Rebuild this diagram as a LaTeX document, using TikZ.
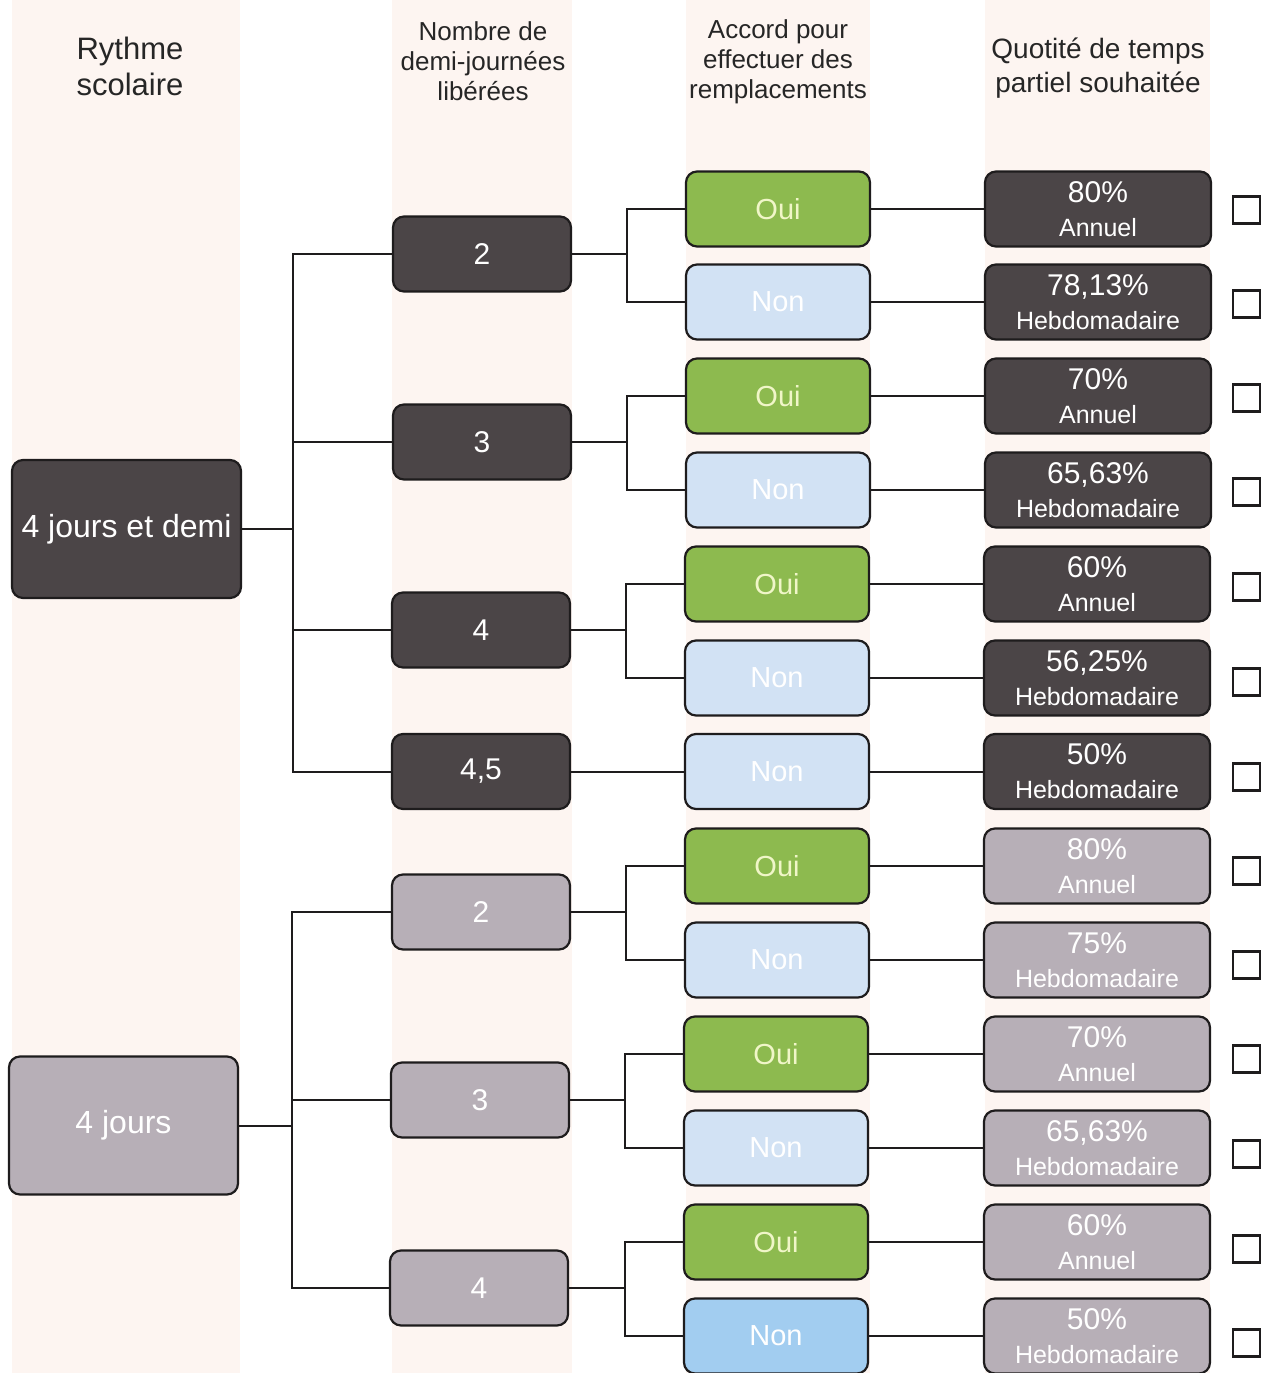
\documentclass[tikz,border=0pt]{standalone}
\usepackage{fontspec}
\setmainfont{Liberation Sans}
\definecolor{darkbox}{HTML}{4B4547}
\definecolor{greybox}{HTML}{B7AFB7}
\definecolor{ouigreen}{HTML}{8DBA4F}
\definecolor{nonblue}{HTML}{D2E2F4}
\definecolor{nonblue2}{HTML}{A2CDF0}
\definecolor{ouitext}{HTML}{F0F6C8}
\definecolor{strip}{HTML}{FDF5F1}
\definecolor{edge}{HTML}{1E1C1D}
\newcommand\qt[2]{{\fontsize{30}{34}\selectfont #1}\\#2}
\begin{document}
\begin{tikzpicture}[x=1pt,y=-1pt,
  boxbase/.style={draw=edge, line width=2.2pt, rounded corners=11pt, inner sep=0pt, text=white, align=center},
  rootbox/.style={boxbase, minimum width=229pt, minimum height=138pt, font=\fontsize{32}{34}\selectfont},
  numbox/.style={boxbase, minimum width=178pt, minimum height=75pt, font=\fontsize{30}{32}\selectfont},
  ansbox/.style={boxbase, minimum width=184pt, minimum height=75pt, font=\fontsize{29}{31}\selectfont},
  ouibox/.style={ansbox, fill=ouigreen, text=ouitext},
  nonbox/.style={ansbox, fill=nonblue},
  qbox/.style={boxbase, minimum width=226pt, minimum height=75pt, font=\fontsize{25}{34}\selectfont},
  chk/.style={draw=edge, fill=white, line width=2.3pt, minimum size=27pt, inner sep=0pt},
  hdr/.style={align=center, text=black!85},
  conn/.style={draw=edge, line width=2pt}
]
\useasboundingbox (0,0) rectangle (1268,1373);
\fill[white] (0,0) rectangle (1268,1373);
% column strips
\fill[strip] (12,0) rectangle (240,1373);
\fill[strip] (392,0) rectangle (572,1373);
\fill[strip] (686,0) rectangle (870,1373);
\fill[strip] (985,0) rectangle (1210,1373);

% headers
\node[hdr, font=\fontsize{31}{36}\selectfont] (h1) at (130,66) {Rythme\\scolaire};
\node[hdr, font=\fontsize{26}{30}\selectfont] (h2) at (483,61) {Nombre de\\demi-journées\\libérées};
\node[hdr, font=\fontsize{26}{30}\selectfont] (h3) at (778,62) {Accord pour\\effectuer des\\remplacements};
\node[hdr, font=\fontsize{28}{34}\selectfont] (h4) at (1098,68) {Quotité de temps\\partiel souhaitée};

% column 1
\node[rootbox, fill=darkbox] (r1) at (126.5,529) {4 jours et demi};
\node[rootbox, fill=greybox] (r2) at (123.5,1125.5) {4 jours};

% column 2
\node[numbox, fill=darkbox] (d2) at (482,254) {2};
\node[numbox, fill=darkbox] (d3) at (482,442) {3};
\node[numbox, fill=darkbox] (d4) at (481,630) {4};
\node[numbox, fill=darkbox] (d45) at (481,771.5) {4,5};
\node[numbox, fill=greybox] (g2) at (481,912) {2};
\node[numbox, fill=greybox] (g3) at (480,1100) {3};
\node[numbox, fill=greybox] (g4) at (479,1288) {4};

% column 3
\node[ouibox] (a1) at (778,209) {Oui};
\node[nonbox] (a2) at (778,302) {Non};
\node[ouibox] (a3) at (778,396) {Oui};
\node[nonbox] (a4) at (778,490) {Non};
\node[ouibox] (a5) at (777,584) {Oui};
\node[nonbox] (a6) at (777,678) {Non};
\node[nonbox] (a7) at (777,771.5) {Non};
\node[ouibox] (a8) at (777,866) {Oui};
\node[nonbox] (a9) at (777,960) {Non};
\node[ouibox] (a10) at (776,1054) {Oui};
\node[nonbox] (a11) at (776,1148) {Non};
\node[ouibox] (a12) at (776,1242) {Oui};
\node[nonbox, fill=nonblue2] (a13) at (776,1336) {Non};

% column 4
\node[qbox, fill=darkbox] (q1) at (1098,209) {\qt{80\%}{Annuel}};
\node[qbox, fill=darkbox] (q2) at (1098,302) {\qt{78,13\%}{Hebdomadaire}};
\node[qbox, fill=darkbox] (q3) at (1098,396) {\qt{70\%}{Annuel}};
\node[qbox, fill=darkbox] (q4) at (1098,490) {\qt{65,63\%}{Hebdomadaire}};
\node[qbox, fill=darkbox] (q5) at (1097,584) {\qt{60\%}{Annuel}};
\node[qbox, fill=darkbox] (q6) at (1097,678) {\qt{56,25\%}{Hebdomadaire}};
\node[qbox, fill=darkbox] (q7) at (1097,771.5) {\qt{50\%}{Hebdomadaire}};
\node[qbox, fill=greybox] (q8) at (1097,866) {\qt{80\%}{Annuel}};
\node[qbox, fill=greybox] (q9) at (1097,960) {\qt{75\%}{Hebdomadaire}};
\node[qbox, fill=greybox] (q10) at (1097,1054) {\qt{70\%}{Annuel}};
\node[qbox, fill=greybox] (q11) at (1097,1148) {\qt{65,63\%}{Hebdomadaire}};
\node[qbox, fill=greybox] (q12) at (1097,1242) {\qt{60\%}{Annuel}};
\node[qbox, fill=greybox] (q13) at (1097,1336) {\qt{50\%}{Hebdomadaire}};

% checkboxes
\foreach \i/\y in {1/210,2/304,3/398,4/492,5/587,6/682,7/777,8/871,9/965,10/1059,11/1154,12/1249,13/1343}{
  \node[chk] (c\i) at (1246.5,\y) {};
}

% connectors column 1 -> 2
\coordinate (t1) at (293,529);
\coordinate (t2) at (292,1125.5);
\draw[conn] (r1.east) -- (t1);
\draw[conn] (d2.west) -| (t1);
\draw[conn] (d3.west) -| (t1);
\draw[conn] (d4.west) -| (t1);
\draw[conn] (d45.west) -| (t1);
\draw[conn] (r2.east) -- (t2);
\draw[conn] (g2.west) -| (t2);
\draw[conn] (g3.west) -| (t2);
\draw[conn] (g4.west) -| (t2);

% connectors column 2 -> 3
\coordinate (b1) at (627,254);
\coordinate (b2) at (627,442);
\coordinate (b3) at (626,630);
\coordinate (b4) at (626,912);
\coordinate (b5) at (625,1100);
\coordinate (b6) at (625,1288);
\draw[conn] (d2.east) -- (b1); \draw[conn] (a1.west) -| (b1) |- (a2.west);
\draw[conn] (d3.east) -- (b2); \draw[conn] (a3.west) -| (b2) |- (a4.west);
\draw[conn] (d4.east) -- (b3); \draw[conn] (a5.west) -| (b3) |- (a6.west);
\draw[conn] (d45.east) -- (a7.west);
\draw[conn] (g2.east) -- (b4); \draw[conn] (a8.west) -| (b4) |- (a9.west);
\draw[conn] (g3.east) -- (b5); \draw[conn] (a10.west) -| (b5) |- (a11.west);
\draw[conn] (g4.east) -- (b6); \draw[conn] (a12.west) -| (b6) |- (a13.west);

% connectors column 3 -> 4
\foreach \i in {1,...,13}{
  \draw[conn] (a\i.east) -- (q\i.west);
}
\end{tikzpicture}
\end{document}
